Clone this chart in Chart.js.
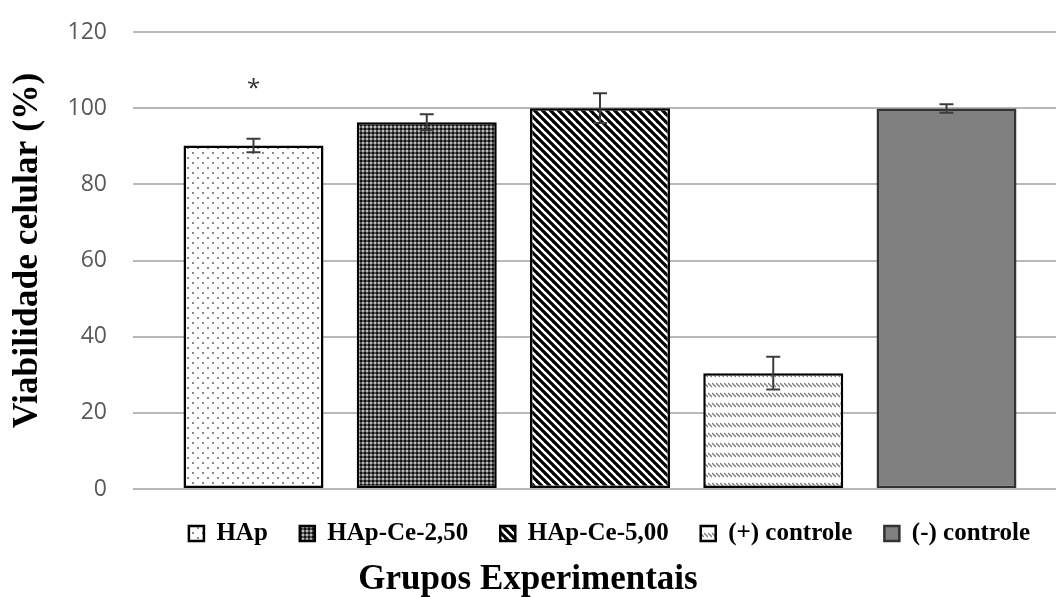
<!DOCTYPE html>
<html lang="pt">
<head>
<meta charset="utf-8">
<title>Viabilidade celular</title>
<script src="https://cdn.jsdelivr.net/npm/chart.js@4.4.1/dist/chart.umd.min.js"></script>
<style>
  html, body { margin: 0; padding: 0; background: #ffffff; }
  #wrap { width: 1056px; height: 597px; }
</style>
</head>
<body>
<div id="wrap"><canvas id="chart" width="1056" height="597"></canvas></div>
<script>
// Experimental groups and measured cell viability (%)
const groups = ['HAp', 'HAp-Ce-2,50', 'HAp-Ce-5,00', '(+) controle', '(-) controle'];
const viability = [90.2, 96.3, 100.0, 30.4, 99.9];
const viabilityError = [1.8, 2.1, 3.9, 4.3, 1.1];
const significance = ['*', '', '', '', ''];
const yTickValues = [0, 20, 40, 60, 80, 100, 120];
const yTitle = 'Viabilidade celular (%)';
const xTitle = 'Grupos Experimentais';

// ---- fill patterns ----
function makeTile(w, h, paint) {
  const c = document.createElement('canvas');
  c.width = w; c.height = h;
  const g = c.getContext('2d');
  paint(g, w, h);
  return document.getElementById('chart').getContext('2d').createPattern(c, 'repeat');
}

const dotted = makeTile(10, 10, (g, w, h) => {
  g.fillStyle = '#ffffff'; g.fillRect(0, 0, w, h);
  g.fillStyle = '#8a8a8a';
  g.fillRect(2, 2, 2, 2);
  g.fillRect(7, 7, 2, 2);
});

const checkered = makeTile(4, 4, (g, w, h) => {
  g.fillStyle = '#555555'; g.fillRect(0, 0, w, h);
  g.fillStyle = '#111111'; g.fillRect(0, 0, 2, 2);
  g.fillStyle = '#b8b8b8'; g.fillRect(2, 2, 2, 2);
});

const striped = makeTile(8, 8, (g, w, h) => {
  g.fillStyle = '#ffffff'; g.fillRect(0, 0, w, h);
  g.strokeStyle = '#000000'; g.lineWidth = 3.2;
  for (let x0 = -8; x0 <= 8; x0 += 8) {
    g.beginPath(); g.moveTo(x0 - 2, -2); g.lineTo(x0 + 10, 10); g.stroke();
  }
});

const dashedRows = makeTile(4, 10, (g, w, h) => {
  g.fillStyle = '#ffffff'; g.fillRect(0, 0, w, h);
  g.strokeStyle = '#808080'; g.lineWidth = 1.3;
  g.beginPath(); g.moveTo(0, 3); g.lineTo(4, 7); g.stroke();
});

const fills = [dotted, checkered, striped, dashedRows, '#808080'];
const borders = ['#000000', '#000000', '#000000', '#000000', '#333333'];

// ---- error bars and significance marks ----
const errorBarPlugin = {
  id: 'errorBars',
  afterDatasetsDraw(chart) {
    const { ctx, scales: { y } } = chart;
    ctx.save();
    chart.data.datasets.forEach((ds, i) => {
      const meta = chart.getDatasetMeta(i);
      if (meta.hidden) return;
      const bar = meta.data[0];
      const v = viability[i], e = viabilityError[i];
      const yTop = y.getPixelForValue(v + e);
      const yBot = y.getPixelForValue(v - e);
      const cap = 7;
      ctx.strokeStyle = '#3c3c3c';
      ctx.lineWidth = 2;
      ctx.beginPath();
      ctx.moveTo(bar.x, yTop); ctx.lineTo(bar.x, yBot);
      ctx.moveTo(bar.x - cap, yTop); ctx.lineTo(bar.x + cap, yTop);
      ctx.moveTo(bar.x - cap, yBot); ctx.lineTo(bar.x + cap, yBot);
      ctx.stroke();
      if (significance[i]) {
        ctx.fillStyle = '#333333';
        ctx.font = '24px "Open Sans", sans-serif';
        ctx.textAlign = 'center';
        ctx.textBaseline = 'middle';
        ctx.fillText(significance[i], bar.x, yTop - 49);
      }
    });
    ctx.restore();
  }
};

// ---- vertical axis title, drawn beside the tick labels ----
const yTitlePlugin = {
  id: 'yTitle',
  afterDraw(chart) {
    const { ctx, chartArea } = chart;
    ctx.save();
    ctx.translate(28, (chartArea.top + chartArea.bottom) / 2 - 10);
    ctx.rotate(-Math.PI / 2);
    ctx.fillStyle = '#000000';
    ctx.font = 'bold 35.5px "Liberation Serif", serif';
    ctx.textAlign = 'center';
    ctx.textBaseline = 'middle';
    ctx.fillText(yTitle, 0, 0);
    ctx.restore();
  }
};

// ---- legend row sits slightly right of the plot centre ----
const legendShift = {
  id: 'legendShift',
  afterLayout(chart) {
    if (chart.legend) {
      chart.legend.left += 15;
      chart.legend.right += 15;
    }
  }
};

const datasets = groups.map((name, i) => ({
  label: name,
  data: [{ x: i, y: viability[i] }],
  backgroundColor: fills[i],
  borderColor: borders[i],
  borderWidth: 2.5,
  borderSkipped: false,
  barPercentage: 0.808,
  categoryPercentage: 1.0,
  grouped: false
}));

new Chart(document.getElementById('chart'), {
  type: 'bar',
  data: { datasets },
  plugins: [errorBarPlugin, yTitlePlugin, legendShift],
  options: {
    responsive: false,
    animation: false,
    layout: { padding: { top: 32, right: 0, bottom: 0, left: 0 } },
    scales: {
      x: {
        type: 'linear',
        display: false,
        offset: false,
        min: -0.6955,
        max: 4.632,
        grid: { offset: false },
        ticks: { stepSize: 1, includeBounds: false }
      },
      y: {
        min: 0,
        max: 120,
        afterBuildTicks(scale) { scale.ticks = yTickValues.map(v => ({ value: v })); },
        afterFit(scale) { scale.width = 133; },
        border: { display: false },
        grid: {
          color: '#b8b8b8',
          lineWidth: 2,
          drawTicks: true,
          tickLength: 22,
          tickColor: 'rgba(0,0,0,0)'
        },
        ticks: {
          padding: 4,
          color: '#595959',
          font: { family: '"Open Sans", sans-serif', size: 23 }
        }
      }
    },
    plugins: {
      legend: {
        position: 'bottom',
        fullSize: false,
        labels: {
          boxWidth: 15,
          boxHeight: 15,
          padding: 32,
          color: '#000000',
          font: { family: '"Liberation Serif", serif', size: 25, weight: 'bold' }
        }
      },
      title: {
        display: true,
        position: 'bottom',
        text: xTitle,
        color: '#000000',
        font: { family: '"Liberation Serif", serif', size: 35, weight: 'bold', lineHeight: 1.0 },
        padding: { top: 6, bottom: 0 }
      },
      tooltip: { enabled: false }
    }
  }
});
</script>
</body>
</html>
